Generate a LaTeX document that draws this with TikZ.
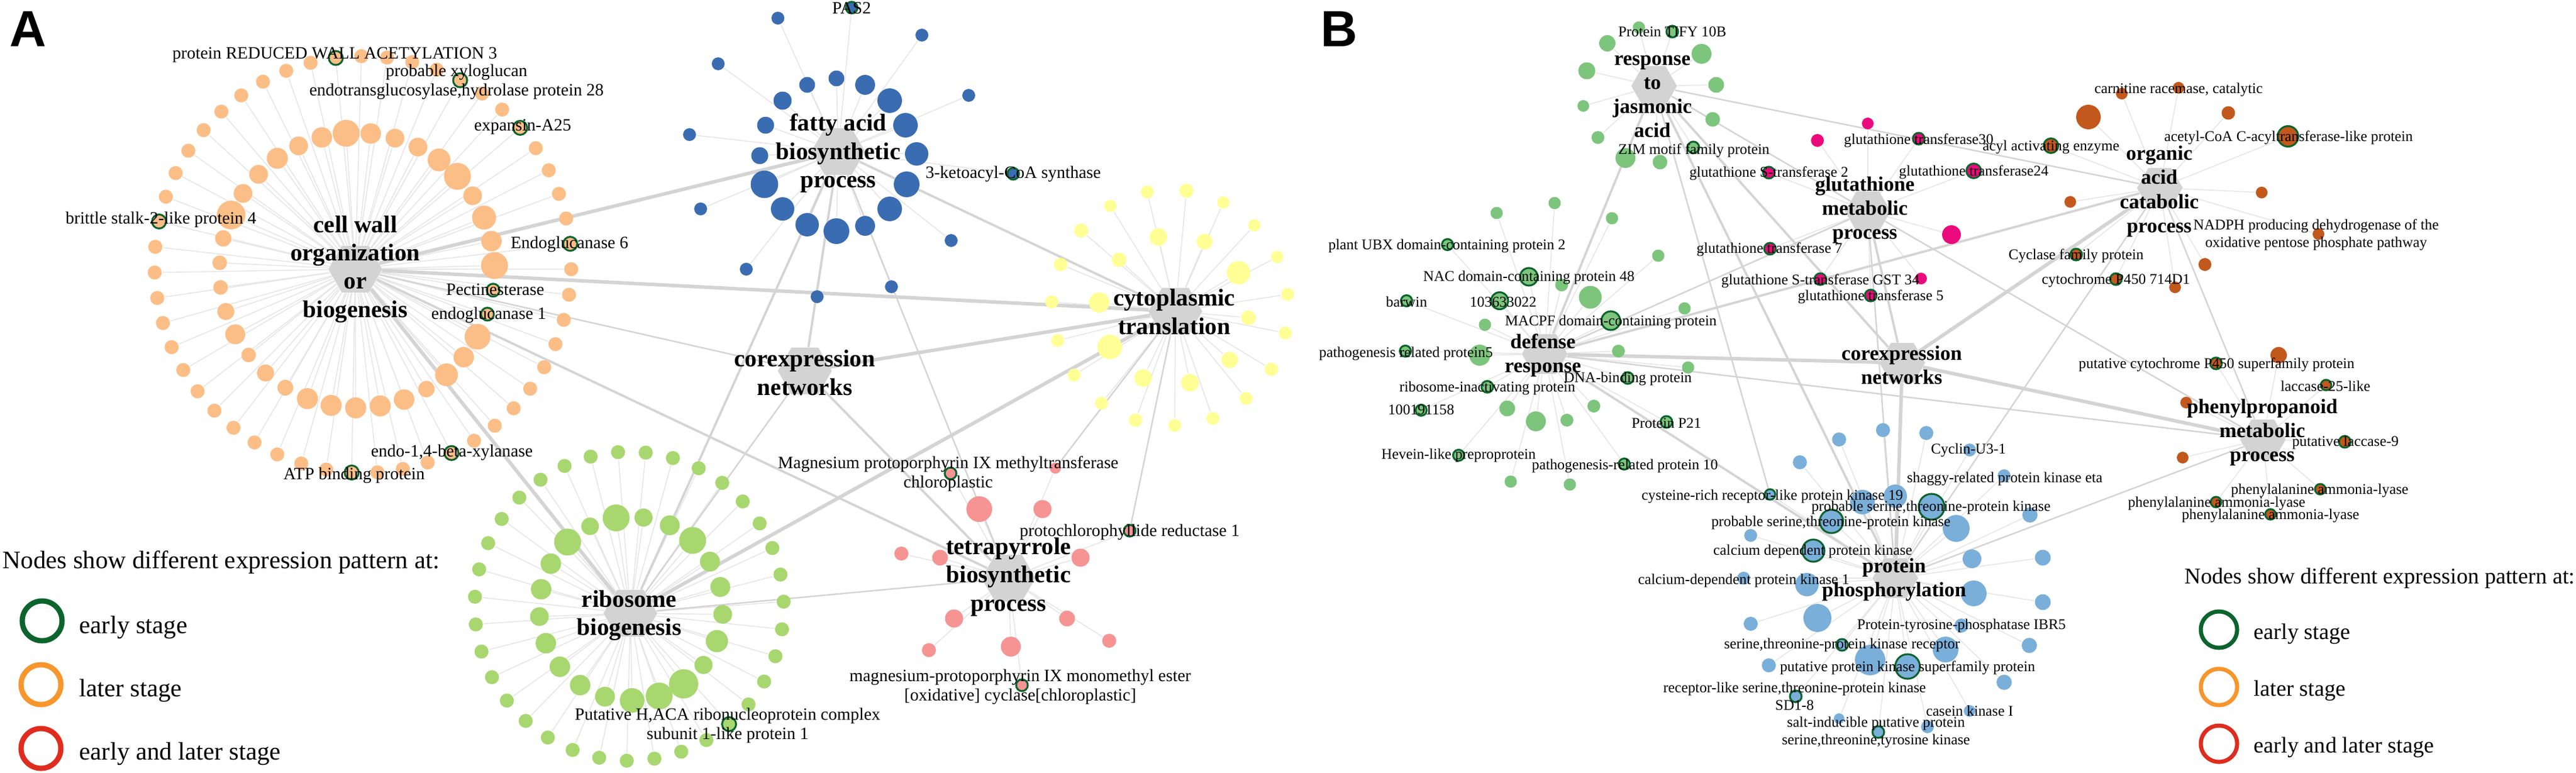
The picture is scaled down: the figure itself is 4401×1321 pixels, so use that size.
\documentclass[tikz,border=0pt]{standalone}
\usepackage{fontspec}
\setmainfont{Liberation Serif}
\setsansfont{Liberation Sans}
\usetikzlibrary{shapes.geometric,calc}

\pgfdeclarelayer{edges}
\pgfdeclarelayer{labels}
\pgfsetlayers{edges,main,labels}

\definecolor{hubgray}{RGB}{211,211,211}
\definecolor{spokegray}{RGB}{230,230,230}
\definecolor{linkgray}{RGB}{212,212,212}
\definecolor{earlygreen}{RGB}{12,100,45}
\definecolor{lateorange}{RGB}{247,150,45}
\definecolor{bothred}{RGB}{222,45,30}
\definecolor{cwcol}{RGB}{252,190,135}
\definecolor{facol}{RGB}{58,108,178}
\definecolor{ctcol}{RGB}{255,255,150}
\definecolor{rbcol}{RGB}{168,215,112}
\definecolor{tpcol}{RGB}{246,148,148}
\definecolor{dfcol}{RGB}{125,197,125}
\definecolor{gtcol}{RGB}{235,10,125}
\definecolor{oacol}{RGB}{194,88,28}
\definecolor{phcol}{RGB}{122,175,218}

\begin{document}
\begin{tikzpicture}[x=0.01cm,y=-0.01cm,
  hubA/.style={regular polygon,regular polygon sides=6,fill=hubgray,inner sep=0pt,minimum size=0.92cm},
  hubB/.style={hubA,minimum size=0.78cm},
  leaf/.style={circle,inner sep=0pt,minimum size={#1*0.01cm},draw=earlygreen,line width=0.9pt,draw opacity=0},
  spoke/.style={draw=spokegray,line width=0.45pt},
  linkthin/.style={draw=linkgray,line width=0.7pt},
  linkmid/.style={draw=linkgray,line width=1.1pt},
  linkthick/.style={draw=linkgray,line width=1.7pt},
  hubtextA/.style={align=center,font=\bfseries\fontsize{11.7}{13.7}\selectfont,inner sep=0pt},
  hubtextB/.style={align=center,font=\bfseries\fontsize{10}{11.7}\selectfont,inner sep=0pt},
  geneA/.style={align=center,font=\fontsize{8.4}{9.4}\selectfont,inner sep=0pt},
  geneB/.style={align=center,font=\fontsize{7.2}{8.5}\selectfont,inner sep=0pt},
  keytext/.style={anchor=base west,inner sep=0pt},
  keyring/.style={circle,inner sep=0pt,fill=none}]

\useasboundingbox (0,0) rectangle (4401,1321);

% ---------- A ----------
\node[hubA] (cw) at (607,460) {};
\node[hubA] (fa) at (1432,259) {};
\node[hubA] (ct) at (2008,532) {};
\node[hubA] (cxA) at (1375,634) {};
\node[hubA] (rb) at (1077,1048) {};
\node[hubA] (tp) at (1723,988) {};

% cell wall
\foreach \s/\e [count=\k from 0] in {46/0,22/1,22/1,44/0,35/0,39/0,28/0,35/0,36/0,36/0,36/0,36/0,27/0,29/0,25/0,34/0,29/0,25/0,25/0,28/0,49/0,32/0,32/0,36/0,32/0,35/0,46/0,35/0,32/0,32/0,39/0,46/0,32/0,41/0,35/0}
  \node[leaf=\s,fill=cwcol,draw opacity=\e] (cwi\k) at ($(610,462)+({-2+10.286*\k}:235)$) {};
\foreach \k in {0,...,50}
  \node[leaf=24,fill=cwcol] (cwo\k) at ($(620,452)+({1.3+7.06*\k}:356)$) {};
\foreach \k in {9,13,27,37,42,45,50}
  \node[leaf=24,fill=none,draw opacity=1] (cwe\k) at (cwo\k) {};

% fatty acid
\foreach \x/\y/\s/\e [count=\i] in {1379/145/27/0,1429/134/27/0,1478/145/34/0,1520/172/42/0,1547/214/42/0,1566/263/40/0,1549/315/44/0,1520/357/42/0,1478/386/34/0,1429/395/44/0,1379/384/40/0,1337/357/40/0,1306/315/47/0,1298/266/29/0,1308/214/29/0,1337/172/31/0,
  1329/31/22/0,1575/60/22/0,1227/109/22/0,1655/163/22/0,1178/230/22/0,1197/357/22/0,1625/411/22/0,1275/460/22/0,1396/507/22/0,1523/490/22/0,1455/13/20/1,1731/297/20/1}
  \node[leaf=\s,fill=facol,draw opacity=\e] (fa\i) at (\x,\y) {};

% cytoplasmic translation
\foreach \x/\y/\s [count=\i] in {1960/328/22,2027/326/24,1897/352/21,2090/346/21,1847/394/24,1979/405/30,2058/413/27,2143/385/21,1812/452/23,1912/444/25,2116/466/40,2182/439/21,1797/516/22,1878/517/35,2200/503/22,2133/543/25,1807/582/22,1896/593/42,2196/569/22,2101/615/28,2172/631/23,1835/641/22,1953/646/30,2033/654/30,2129/681/22,1882/689/22,1940/718/23,2007/727/22,2072/715/22}
  \node[leaf=\s,fill=ctcol] (ct\i) at (\x,\y) {};

% ribosome biogenesis
\foreach \s [count=\k from 0] in {32,38,31,50,46,42,34,35,35,35,32,35,35,46,30,46,31,34,46,34,34}
  \node[leaf=\s,fill=rbcol] (rbi\k) at ($(1078,1040)+({3.6+17.14*\k}:157)$) {};
\foreach \k in {0,...,34}
  \node[leaf=24,fill=rbcol] (rbo\k) at ($(1075,1036)+({-1.7+10.29*\k}:264)$) {};
\node[leaf=24,fill=none,draw opacity=1] (rbe5) at (rbo5) {};

% tetrapyrrole
\foreach \x/\y/\s/\e [count=\i] in {1624/809/20/1,1803/800/19/0,1673/870/44/0,1781/870/31/0,1930/907/20/1,1540/946/24/0,1606/953/27/0,1846/953/31/0,1630/1057/31/0,1823/1057/27/0,1587/1111/24/0,1727/1105/34/0,1895/1095/24/0,1746/1171/20/1}
  \node[leaf=\s,fill=tpcol,draw opacity=\e] (tp\i) at (\x,\y) {};

% ---------- B ----------
\node[hubB] (ja) at (2826,147) {};
\node[hubB] (df) at (2639,605) {};
\node[hubB] (gt) at (3191,361) {};
\node[hubB] (oa) at (3690,321) {};
\node[hubB] (cxB) at (3250,620) {};
\node[hubB] (ph) at (3238,988) {};
\node[hubB] (pp) at (3866,751) {};

% response to jasmonic acid
\foreach \x/\y/\s/\e [count=\i] in {2800/47/21/0,2857/54/20/1,2746/74/28/0,2907/92/34/0,2711/121/29/0,2932/145/27/0,2705/181/20/0,2926/204/25/0,2730/235/22/0,2893/252/20/1,2777/270/34/0,2836/277/25/0}
  \node[leaf=\s,fill=dfcol,draw opacity=\e] (ja\i) at (\x,\y) {};

% defense response
\foreach \x/\y/\s/\e [count=\i] in {2557/364/21/0,2656/347/21/0,2754/373/21/0,2473/418/19/1,2833/437/21/0,2612/473/30/1,2668/487/22/0,2717/508/39/0,2562/514/29/1,2878/527/21/0,2752/548/32/1,2537/555/21/0,2765/600/22/0,2528/607/36/0,2884/628/21/0,2781/646/20/1,2541/661/20/1,2575/698/27/0,2624/720/34/0,2677/718/22/0,2723/694/22/0,2847/721/20/1,2492/778/19/1,2775/793/19/1,2581/823/21/0,2682/828/21/0,2403/514/19/1,2401/600/19/1,2428/701/19/1}
  \node[leaf=\s,fill=dfcol,draw opacity=\e] (df\i) at (\x,\y) {};

% glutathione
\foreach \x/\y/\s/\e [count=\i] in {3191/211/20/0,3105/240/22/0,3278/237/20/1,3022/295/20/1,3372/292/25/1,3334/401/32/0,3024/425/20/1,3110/477/20/1,3282/476/20/0,3196/505/20/1}
  \node[leaf=\s,fill=gtcol,draw opacity=\e] (gt\i) at (\x,\y) {};

% organic acid
\foreach \x/\y/\s/\e [count=\i] in {3625/160/20/0,3722/150/20/0,3568/200/42/0,3807/193/23/0,3504/249/25/1,3909/233/35/1,3537/345/20/0,3864/329/20/0,3961/400/20/0,3547/435/20/1,3767/452/22/0,3615/477/20/1,3716/491/20/0}
  \node[leaf=\s,fill=oacol,draw opacity=\e] (oa\i) at (\x,\y) {};

% phenylpropanoid
\foreach \x/\y/\s/\e [count=\i] in {3893/607/28/0,3786/621/20/1,3974/658/18/1,3735/688/20/0,4006/755/20/1,3729/782/20/0,3964/836/18/1,3786/858/18/1,3879/879/18/1}
  \node[leaf=\s,fill=oacol,draw opacity=\e] (pp\i) at (\x,\y) {};

% protein phosphorylation
\foreach \x/\y/\s/\e [count=\i] in {3217/735/24/0,3142/751/24/0,3291/740/24/0,3075/790/24/0,3024/845/18/1,3182/858/42/0,3238/848/40/0,3129/891/40/1,2991/915/22/0,3098/941/38/1,2979/988/22/0,3087/999/40/0,3105/1056/48/0,2991/1066/24/0,3147/1102/20/1,3022/1137/24/0,3195/1128/52/0,3259/1139/42/1,3068/1190/20/1,3142/1228/18/0,3209/1251/20/1,3365/769/22/0,3424/813/22/0,3300/866/44/1,3468/880/26/0,3342/903/46/0,3369/955/32/0,3490/953/27/0,3372/1014/44/0,3490/1029/27/0,3351/1069/24/0,3324/1110/44/0,3467/1103/26/0,3424/1166/26/0,3365/1215/20/0,3293/1242/22/0}
  \node[leaf=\s,fill=phcol,draw opacity=\e] (ph\i) at (\x,\y) {};

% ---------- connectors ----------
\begin{pgfonlayer}{edges}
\fill[white] (0,0) rectangle (4401,1321);
\foreach \k in {0,...,34} \draw[spoke] (cw) -- (cwi\k);
\foreach \k in {0,...,50} \draw[spoke] (cw) -- (cwo\k);
\foreach \k in {1,...,28} \draw[spoke] (fa) -- (fa\k);
\foreach \k in {1,...,29} \draw[spoke] (ct) -- (ct\k);
\foreach \k in {0,...,20} \draw[spoke] (rb) -- (rbi\k);
\foreach \k in {0,...,34} \draw[spoke] (rb) -- (rbo\k);
\foreach \k in {1,...,14} \draw[spoke] (tp) -- (tp\k);
\foreach \k in {1,...,12} \draw[spoke] (ja) -- (ja\k);
\foreach \k in {1,...,29} \draw[spoke] (df) -- (df\k);
\foreach \k in {1,...,10} \draw[spoke] (gt) -- (gt\k);
\foreach \k in {1,...,13} \draw[spoke] (oa) -- (oa\k);
\foreach \k in {1,...,9} \draw[spoke] (pp) -- (pp\k);
\foreach \k in {1,...,36} \draw[spoke] (ph) -- (ph\k);

\draw[linkthick] (cw) -- (fa);
\draw[linkthick] (cw) -- (ct);
\draw[linkthick] (cw) -- (rb);
\draw[linkthick] (cxA) -- (ct);
\draw[linkthick] (ct) -- (rb);
\draw[linkmid] (cw) -- (tp);
\draw[linkmid] (cxA) -- (fa);
\draw[linkmid] (cxA) -- (tp);
\draw[linkmid] (fa) -- (ct);
\draw[linkmid] (fa) -- (rb);
\draw[linkthin] (cw) -- (cxA);
\draw[linkthin] (cxA) -- (rb);
\draw[linkthin] (fa) -- (tp);
\draw[linkthin] (rb) -- (tp);
\draw[linkthin] (ct) -- (tp2);
\draw[linkthin] (ct) -- (tp5);

\draw[linkthick] (df) -- (cxB);
\draw[linkthick] (cxB) -- (ph);
\draw[linkthick] (cxB) -- (pp);
\draw[linkthick] (cxB) -- (oa);
\draw[linkmid] (cxB) -- (gt);
\draw[linkmid] (cxB) -- (ja);
\draw[linkmid] (df) -- (ja);
\draw[linkmid] (df) -- (oa);
\draw[linkmid] (df) -- (ph);
\draw[linkmid] (ja) -- (ph);
\draw[linkthin] (df) -- (gt);
\draw[linkthin] (df) -- (pp);
\draw[linkthin] (ja) -- (oa);
\draw[linkthin] (ja) -- (gt);
\draw[linkthin] (gt) -- (pp);
\draw[linkthin] (gt) -- (ph);
\draw[linkthin] (oa) -- (pp);
\draw[linkthin] (ph) -- (oa);
\draw[linkthin] (ph) -- (pp);
\draw[linkthin] (ja) -- (ph5);
\end{pgfonlayer}

% ---------- texts ----------
\begin{pgfonlayer}{labels}
\node[font=\sffamily\bfseries\fontsize{24.7}{28}\selectfont,anchor=base west,inner sep=0pt] (panA) at (16,80) {A};
\node[font=\sffamily\bfseries\fontsize{24.7}{28}\selectfont,anchor=base west,inner sep=0pt] (panB) at (2256,80) {B};

\node[hubtextA] (cwt) at (cw) {cell wall\\organization\\or\\biogenesis};
\node[hubtextA] (fat) at (1432,262) {fatty acid\\biosynthetic\\process};
\node[hubtextA] (ctt) at (2006,533) {cytoplasmic\\translation};
\node[hubtextA] (cxAt) at (1375,637) {corexpression\\networks};
\node[hubtextA] (rbt) at (1075,1052) {ribosome\\biogenesis};
\node[hubtextA] (tpt) at (1723,986) {tetrapyrrole\\biosynthetic\\process};

\node[geneA] at (572,94) {protein REDUCED WALL ACETYLATION 3};
\node[geneA] at (780,140) {probable xyloglucan\\endotransglucosylase,hydrolase protein 28};
\node[geneA] at (893,217) {expansin-A25};
\node[geneA] at (275,375) {brittle stalk-2-like protein 4};
\node[geneA] at (973,417) {Endoglucanase 6};
\node[geneA] at (846,495) {Pectinesterase};
\node[geneA] at (835,538) {endoglucanase 1};
\node[geneA] at (772,773) {endo-1,4-beta-xylanase};
\node[geneA] at (605,812) {ATP binding protein};
\node[geneA] at (1455,14) {PAS2};
\node[geneA] at (1731,297) {3-ketoacyl-CoA synthase};
\node[geneA] at (1620,810) {Magnesium protoporphyrin IX methyltransferase\\chloroplastic};
\node[geneA] at (1930,909) {protochlorophyllide reductase 1};
\node[geneA] at (1743,1174) {magnesium-protoporphyrin IX monomethyl ester\\{[oxidative] cyclase[chloroplastic]}};
\node[geneA] at (1243,1240) {Putative H,ACA ribonucleoprotein complex\\subunit 1-like protein 1};

\node[keytext,font=\fontsize{12.2}{14}\selectfont] (kAt) at (4,971) {Nodes show different expression pattern at:};
\node[keyring,draw=earlygreen,line width=0.09cm,minimum size=0.68cm] (kA1) at (72,1061) {};
\node[keyring,draw=lateorange,line width=0.09cm,minimum size=0.68cm] (kA2) at (70,1170) {};
\node[keyring,draw=bothred,line width=0.09cm,minimum size=0.68cm] (kA3) at (70,1279) {};
\node[keytext,font=\fontsize{12.2}{14}\selectfont] (kA1t) at (135,1082) {early stage};
\node[keytext,font=\fontsize{12.2}{14}\selectfont] (kA2t) at (135,1190) {later stage};
\node[keytext,font=\fontsize{12.2}{14}\selectfont] (kA3t) at (135,1298) {early and later stage};

\node[hubtextB] (jat) at (2823,165) {response\\to\\jasmonic\\acid};
\node[hubtextB] (dft) at (2636,607) {defense\\response};
\node[hubtextB] (gtt) at (3186,359) {glutathione\\metabolic\\process};
\node[hubtextB] (oat) at (3689,327) {organic\\acid\\catabolic\\process};
\node[hubtextB] (cxBt) at (3249,624) {corexpression\\networks};
\node[hubtextB] (pht) at (3236,991) {protein\\phosphorylation};
\node[hubtextB] (ppt) at (3865,739) {phenylpropanoid\\metabolic\\process};

\node[geneB] at (2857,54) {Protein TIFY 10B};
\node[geneB] at (2894,257) {ZIM motif family protein};
\node[geneB] at (3278,240) {glutathione transferase30};
\node[geneB] at (3372,294) {glutathione transferase24};
\node[geneB] at (3022,296) {glutathione S-transferase 2};
\node[geneB] at (3023,426) {glutathione transferase 7};
\node[geneB] at (3110,480) {glutathione S-transferase GST 34};
\node[geneB] at (3196,507) {glutathione transferase 5};
\node[geneB] at (3722,153) {carnitine racemase, catalytic};
\node[geneB] at (3504,251) {acyl activating enzyme};
\node[geneB] at (3910,235) {acetyl-CoA C-acyltransferase-like protein};
\node[geneB] at (3957,401) {NADPH producing dehydrogenase of the\\oxidative pentose phosphate pathway};
\node[geneB] at (3547,437) {Cyclase family protein};
\node[geneB] at (3615,479) {cytochrome P450 714D1};
\node[geneB] at (3787,623) {putative cytochrome P450 superfamily protein};
\node[geneB] at (3973,660) {laccase-25-like};
\node[geneB] at (4007,756) {putative laccase-9};
\node[geneB] at (3963,838) {phenylalanine ammonia-lyase};
\node[geneB] at (3787,860) {phenylalanine ammonia-lyase};
\node[geneB] at (3879,881) {phenylalanine ammonia-lyase};
\node[geneB] at (2472,420) {plant UBX domain-containing protein 2};
\node[geneB] at (2612,474) {NAC domain-containing protein 48};
\node[geneB] at (2403,516) {barwin};
\node[geneB] at (2568,516) {103633022};
\node[geneB] at (2752,550) {MACPF domain-containing protein};
\node[geneB] at (2402,604) {pathogenesis related protein5};
\node[geneB] at (2781,647) {DNA-binding protein};
\node[geneB] at (2541,663) {ribosome-inactivating protein};
\node[geneB] at (2428,700) {100191158};
\node[geneB] at (2847,723) {Protein P21};
\node[geneB] at (2492,778) {Hevein-like preproprotein};
\node[geneB] at (2776,796) {pathogenesis-related protein 10};
\node[geneB] at (3363,769) {Cyclin-U3-1};
\node[geneB] at (3425,818) {shaggy-related protein kinase eta};
\node[geneB] at (3028,848) {cysteine-rich receptor-like protein kinase 19};
\node[geneB] at (3299,867) {probable serine,threonine-protein kinase};
\node[geneB] at (3128,893) {probable serine,threonine-protein kinase};
\node[geneB] at (3097,942) {calcium dependent protein kinase};
\node[geneB] at (2979,992) {calcium-dependent protein kinase 1};
\node[geneB] at (3351,1069) {Protein-tyrosine-phosphatase IBR5};
\node[geneB] at (3147,1102) {serine,threonine-protein kinase receptor};
\node[geneB] at (3259,1141) {putative protein kinase superfamily protein};
\node[geneB] at (3066,1190) {receptor-like serine,threonine-protein kinase\\SD1-8};
\node[geneB] at (3365,1215) {casein kinase I};
\node[geneB] at (3205,1251) {salt-inducible putative protein\\serine,threonine,tyrosine kinase};

\node[keytext,font=\fontsize{10.9}{13}\selectfont] (kBt) at (3732,997) {Nodes show different expression pattern at:};
\node[keyring,draw=earlygreen,line width=0.07cm,minimum size=0.62cm] (kB1) at (3791,1076) {};
\node[keyring,draw=lateorange,line width=0.07cm,minimum size=0.62cm] (kB2) at (3791,1174) {};
\node[keyring,draw=bothred,line width=0.07cm,minimum size=0.62cm] (kB3) at (3791,1271) {};
\node[keytext,font=\fontsize{10.9}{13}\selectfont] (kB1t) at (3850,1092) {early stage};
\node[keytext,font=\fontsize{10.9}{13}\selectfont] (kB2t) at (3850,1189) {later stage};
\node[keytext,font=\fontsize{10.9}{13}\selectfont] (kB3t) at (3850,1286) {early and later stage};
\end{pgfonlayer}
\end{tikzpicture}
\end{document}
